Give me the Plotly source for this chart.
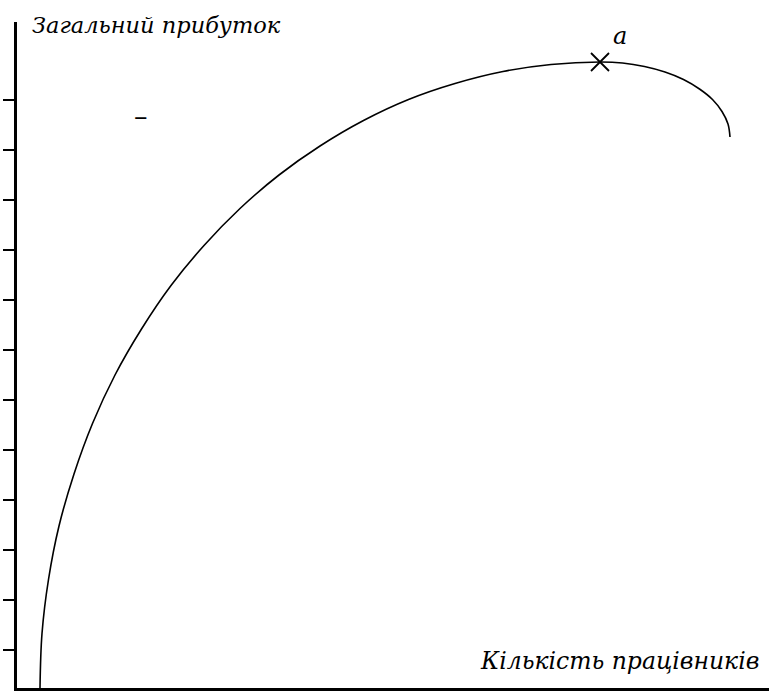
import plotly.graph_objects as go

# Number of workers (x) and total profit (y)
workers = [0.46, 0.50, 0.63, 0.84, 1.14, 1.51, 1.96, 2.49, 3.08, 3.74, 4.46, 5.24,
           6.06, 6.93, 7.83, 8.76, 9.72, 10.68, 11.66, 12.11, 12.55, 12.96, 13.33,
           13.65, 13.91, 14.10, 14.22, 14.26]
profit = [0.24, 1.33, 2.41, 3.48, 4.52, 5.53, 6.50, 7.42, 8.29, 9.09, 9.83, 10.50,
          11.08, 11.59, 12.01, 12.33, 12.57, 12.71, 12.76, 12.74, 12.67, 12.56, 12.41,
          12.22, 12.01, 11.77, 11.52, 11.26]
peak_x = [11.66]
peak_y = [12.76]
y_ticks = [1, 2, 3, 4, 5, 6, 7, 8, 9, 10, 11, 12]

serif = '"DejaVu Serif", serif'

fig = go.Figure()
fig.add_trace(go.Scatter(x=workers, y=profit, mode="lines",
                         line=dict(color="black", width=1.6, shape="spline"),
                         hoverinfo="skip", cliponaxis=False))
fig.add_trace(go.Scatter(x=peak_x, y=peak_y, mode="markers",
                         marker=dict(symbol="x-thin", size=18, color="black",
                                     line=dict(color="black", width=1.8)),
                         hoverinfo="skip", cliponaxis=False))

fig.update_layout(
    width=769, height=691,
    margin=dict(l=17, r=0, t=22, b=3),
    paper_bgcolor="white", plot_bgcolor="white",
    showlegend=False,
    xaxis=dict(range=[0, 15.04], showgrid=False, zeroline=False, showline=True,
               linecolor="black", linewidth=3, showticklabels=False, ticks=""),
    yaxis=dict(range=[0.24, 13.56], showgrid=False, zeroline=False, showline=True,
               linecolor="black", linewidth=3, showticklabels=False,
               ticks="outside", tickvals=y_ticks, ticklen=11, tickwidth=2,
               tickcolor="black"),
    annotations=[
        dict(text="Загальний прибуток", xref="paper", yref="paper",
             x=(30 - 17) / 752, y=(688 - 25) / 666, xanchor="left", yanchor="middle",
             showarrow=False, font=dict(family=serif, size=22.5, color="black", style="italic")),
        dict(text="Кількість працівників", xref="paper", yref="paper",
             x=(761 - 17) / 752, y=(688 - 661) / 666, xanchor="right", yanchor="middle",
             showarrow=False, font=dict(family=serif, size=23.5, color="black", style="italic")),
        dict(text="a", xref="paper", yref="paper",
             x=(620 - 17) / 752, y=(688 - 36) / 666, xanchor="center", yanchor="middle",
             showarrow=False, font=dict(family=serif, size=24, color="black", style="italic")),
        dict(text="–", xref="paper", yref="paper",
             x=(140.5 - 17) / 752, y=(688 - 116) / 666, xanchor="center", yanchor="middle",
             showarrow=False, font=dict(family=serif, size=27, color="black")),
    ],
)

fig.write_html("out.html", config={"displayModeBar": False},
               post_script="document.body.style.margin='0';document.body.style.overflow='hidden';")
